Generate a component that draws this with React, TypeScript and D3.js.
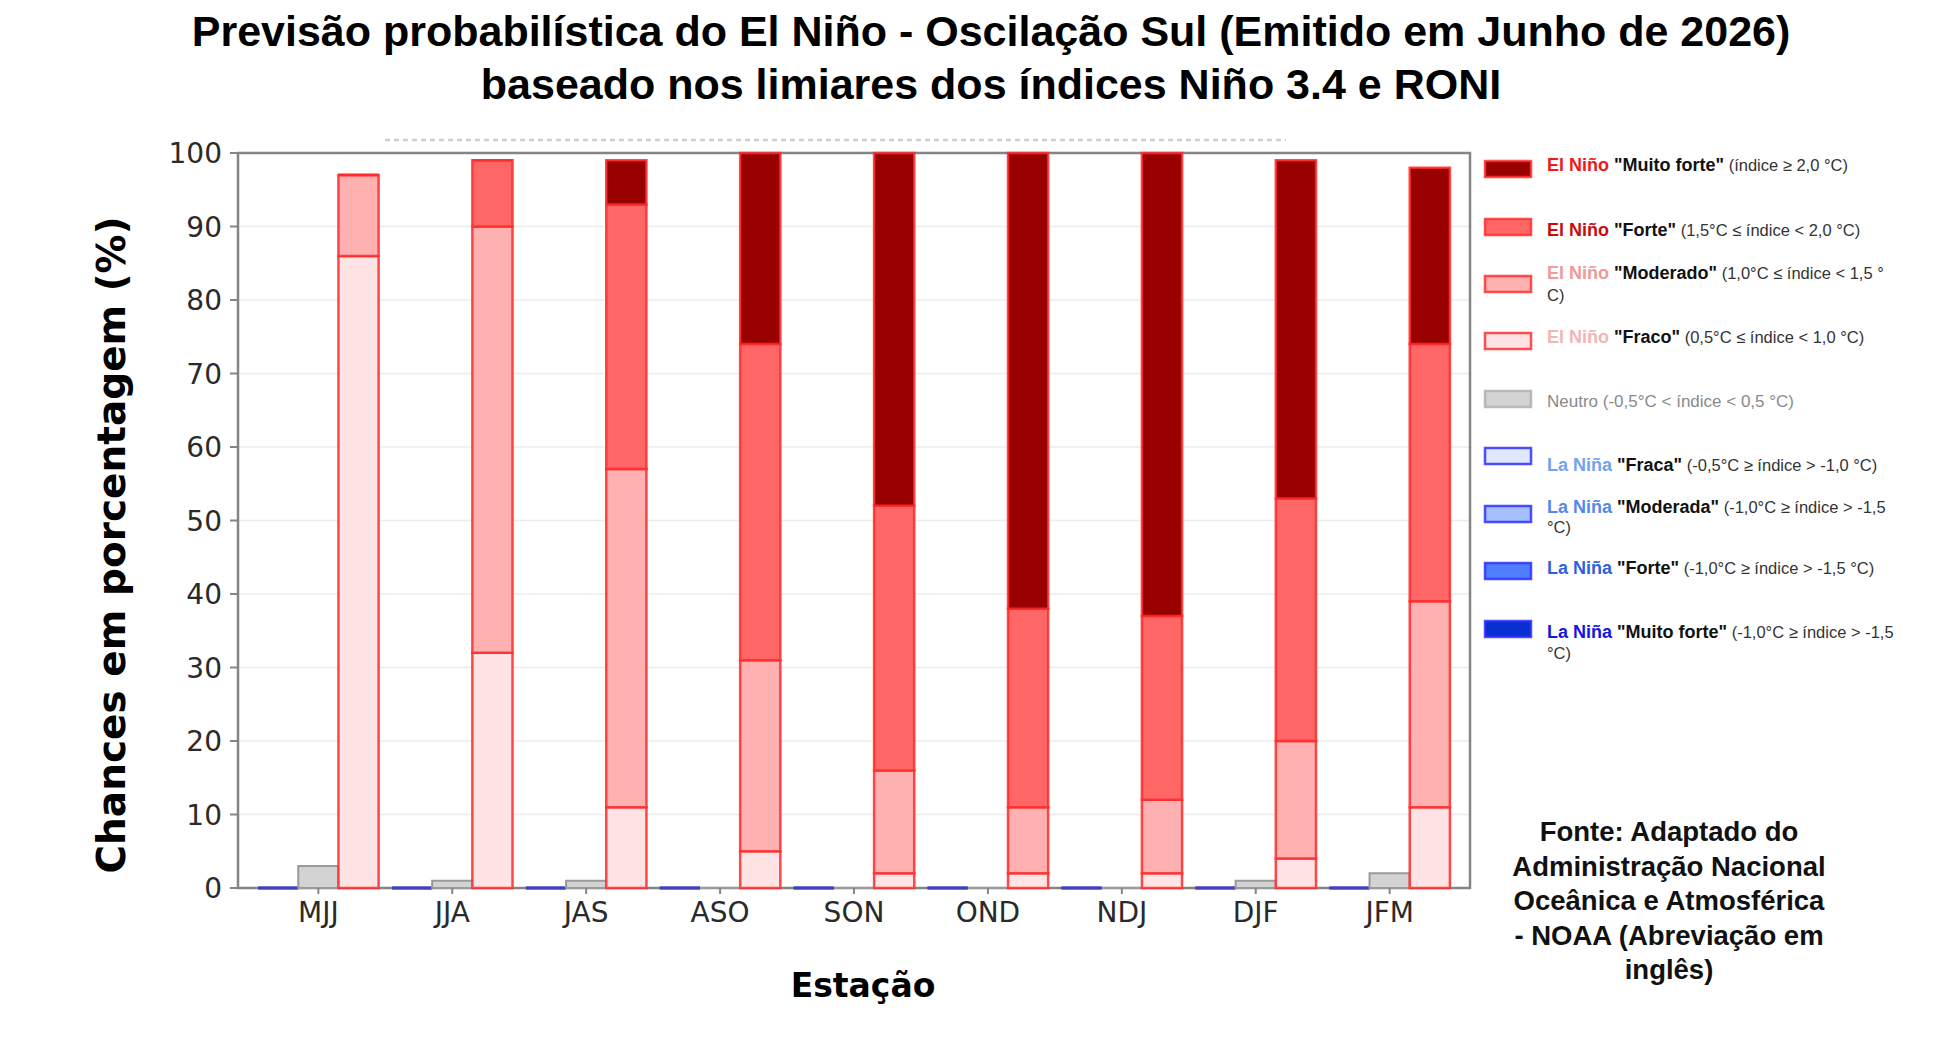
import React from "react";
import * as d3 from "d3";

// ---------- data ----------
const seasons = ["MJJ", "JJA", "JAS", "ASO", "SON", "OND", "NDJ", "DJF", "JFM"];
const laNinaMuitoForte = [0, 0, 0, 0, 0, 0, 0, 0, 0];
const laNinaForte = [0, 0, 0, 0, 0, 0, 0, 0, 0];
const laNinaModerada = [0, 0, 0, 0, 0, 0, 0, 0, 0];
const laNinaFraca = [0, 0, 0, 0, 0, 0, 0, 0, 0];
const neutro = [3, 1, 1, 0, 0, 0, 0, 1, 2];
const elNinoFraco = [86, 32, 11, 5, 2, 2, 2, 4, 11];
const elNinoModerado = [11, 58, 46, 26, 14, 9, 10, 16, 28];
const elNinoForte = [0, 9, 36, 43, 36, 27, 25, 33, 35];
const elNinoMuitoForte = [0, 0, 6, 26, 48, 62, 63, 46, 24];
const yTicks = [0, 10, 20, 30, 40, 50, 60, 70, 80, 90, 100];

const titleLines = [
  "Previsão probabilística do El Niño - Oscilação Sul (Emitido em Junho de 2026)",
  "baseado nos limiares dos índices Niño 3.4 e RONI",
];
const yLabel = "Chances em porcentagem (%)";
const xLabel = "Estação";
const sourceLines = [
  "Fonte: Adaptado do",
  "Administração Nacional",
  "Oceânica e Atmosférica",
  "- NOAA (Abreviação em",
  "inglês)",
];

const legendPrefixes = ["El Niño", "El Niño", "El Niño", "El Niño", "Neutro", "La Niña", "La Niña", "La Niña", "La Niña"];
const legendStrengths = ["\"Muito forte\"", "\"Forte\"", "\"Moderado\"", "\"Fraco\"", "", "\"Fraca\"", "\"Moderada\"", "\"Forte\"", "\"Muito forte\""];
const legendRanges = [
  ["(índice ≥ 2,0 °C)"],
  ["(1,5°C ≤ índice < 2,0 °C)"],
  ["(1,0°C ≤ índice < 1,5 °", "C)"],
  ["(0,5°C ≤ índice < 1,0 °C)"],
  ["(-0,5°C < índice < 0,5 °C)"],
  ["(-0,5°C ≥ índice > -1,0 °C)"],
  ["(-1,0°C ≥ índice > -1,5", "°C)"],
  ["(-1,0°C ≥ índice > -1,5 °C)"],
  ["(-1,0°C ≥ índice > -1,5", "°C)"],
];

// ---------- styles ----------
const elFills = ["#ffe3e5", "#ffb1b1", "#ff6666", "#990000"]; // fraco -> muito forte
const laFills = ["#dfe8ff", "#a6c0ff", "#4f7fff", "#0a2fd0"]; // fraca -> muito forte
const legendFills = ["#990000", "#ff6666", "#ffb1b1", "#ffe3e5", "#d3d3d3", "#dfe8ff", "#a6c0ff", "#4f7fff", "#0a2fd0"];
const legendStrokes = ["#ff3030", "#ff3030", "#ff3030", "#ff3030", "#b0b0b0", "#3030ff", "#3030ff", "#3030ff", "#3030ff"];
const legendPrefixColors = ["#f01818", "#c80c0c", "#f09a9a", "#f2b6b6", "#8a8a8a", "#74a2f2", "#5587ee", "#2f5fe0", "#1414e6"];
const legendSwatchY = [161, 219, 276, 333, 391, 448, 506, 563, 621];
const legendBaselines = [[171], [236], [279, 301], [343], [407], [471], [513, 533], [574], [638, 659]];

const W = 1948;
const H = 1038;
const plotLeft = 238;
const plotRight = 1470;
const plotTop = 153;
const plotBottom = 888;
const barW = 0.3;

// rectangle as a path, so that zero-height bars still show their outline
function barPath(x0: number, y0: number, w: number, h: number) {
  const p = d3.path();
  p.moveTo(x0, y0);
  p.lineTo(x0 + w, y0);
  p.lineTo(x0 + w, y0 + h);
  p.lineTo(x0, y0 + h);
  p.closePath();
  return p.toString();
}

export default function App() {
  const x = d3.scaleLinear().domain([-0.6, 8.6]).range([plotLeft, plotRight]);
  const y = d3.scaleLinear().domain([0, 100]).range([plotBottom, plotTop]);
  const bw = x(barW) - x(0);

  const rows = seasons.map((s, i) => ({
    s,
    i,
    f: elNinoFraco[i],
    m: elNinoModerado[i],
    fo: elNinoForte[i],
    mf: elNinoMuitoForte[i],
    lf: laNinaFraca[i],
    lm: laNinaModerada[i],
    lfo: laNinaForte[i],
    lmf: laNinaMuitoForte[i],
  }));
  const elStack = d3.stack<any>().keys(["f", "m", "fo", "mf"])(rows);
  const laStack = d3.stack<any>().keys(["lf", "lm", "lfo", "lmf"])(rows);

  const tickFont = "'DejaVu Sans', sans-serif";
  const arial = "'Liberation Sans', Arial, sans-serif";

  return (
    <svg
      width={W}
      height={H}
      viewBox={`0 0 ${W} ${H}`}
      style={{ position: "absolute", left: 0, top: 0, background: "#fff" }}
    >
      <rect x={0} y={0} width={W} height={H} fill="#fff" />
      {/* title */}
      {titleLines.map((t, k) => (
        <text
          key={k}
          x={991}
          y={[46, 99][k]}
          textAnchor="middle"
          fontFamily={arial}
          fontWeight="bold"
          fontSize={43}
          fill="#000"
        >
          {t}
        </text>
      ))}
      {/* faint remnant */}
      <line x1={385} x2={1286} y1={140} y2={140} stroke="#cfcfcf" strokeWidth={2.5} strokeDasharray="5,4" />

      {/* gridlines */}
      {yTicks.map((t) => (
        <line key={t} x1={plotLeft} x2={plotRight} y1={y(t)} y2={y(t)} stroke="#ececec" strokeWidth={1.5} />
      ))}

      {/* frame */}
      <rect
        x={plotLeft}
        y={plotTop}
        width={plotRight - plotLeft}
        height={plotBottom - plotTop}
        fill="none"
        stroke="#858585"
        strokeWidth={2.5}
      />

      {/* La Niña bars */}
      {laStack.map((layer, li) =>
        layer.map((d, i) => (
          <path
            key={`la${li}-${i}`}
            d={barPath(x(i - barW) - bw / 2, y(d[1]), bw, Math.max(0, y(d[0]) - y(d[1])))}
            fill={laFills[li]}
            stroke="#4040c0"
            strokeOpacity={0.9}
            strokeWidth={2.5}
          />
        ))
      )}
      {/* neutral bars */}
      {neutro.map((v, i) => (
        <path
          key={`n${i}`}
          d={barPath(x(i) - bw / 2, y(v), bw, y(0) - y(v))}
          fill="#d3d3d3"
          stroke="#9a9a9a"
          strokeWidth={2}
        />
      ))}
      {/* El Niño bars */}
      {elStack.map((layer, li) =>
        layer.map((d, i) => (
          <path
            key={`el${li}-${i}`}
            d={barPath(x(i + barW) - bw / 2, y(d[1]), bw, Math.max(0, y(d[0]) - y(d[1])))}
            fill={elFills[li]}
            stroke="#ff2a2a"
            strokeOpacity={0.85}
            strokeWidth={2.5}
          />
        ))
      )}

      {/* y ticks */}
      {yTicks.map((t) => (
        <g key={`yt${t}`}>
          <line x1={plotLeft - 8} x2={plotLeft} y1={y(t)} y2={y(t)} stroke="#858585" strokeWidth={2} />
          <text x={222} y={y(t) + 10} textAnchor="end" fontFamily={tickFont} fontSize={28} fill="#2a2a2a">
            {t}
          </text>
        </g>
      ))}
      {/* x ticks */}
      {seasons.map((s, i) => (
        <g key={`xt${s}`}>
          <line x1={x(i)} x2={x(i)} y1={plotBottom} y2={plotBottom + 6} stroke="#858585" strokeWidth={2} />
          <text x={x(i)} y={922} textAnchor="middle" fontFamily={tickFont} fontSize={28} fill="#2a2a2a">
            {s}
          </text>
        </g>
      ))}

      {/* axis labels */}
      <text
        transform={`translate(125,545) rotate(-90)`}
        textAnchor="middle"
        fontFamily="'DejaVu Sans', sans-serif"
        fontWeight="bold"
        fontSize={39}
        fill="#000"
      >
        {yLabel}
      </text>
      <text x={863} y={997} textAnchor="middle" fontFamily="'DejaVu Sans', sans-serif" fontWeight="bold" fontSize={33} fill="#000">
        {xLabel}
      </text>

      {/* legend */}
      {legendPrefixes.map((p, k) => (
        <g key={`lg${k}`}>
          <rect
            x={1485}
            y={legendSwatchY[k]}
            width={46}
            height={16}
            fill={legendFills[k]}
            stroke={legendStrokes[k]}
            strokeOpacity={0.85}
            strokeWidth={2.5}
          />
          {legendRanges[k].map((r, j) => (
            <text key={j} x={1547} y={legendBaselines[k][j]} fontFamily={arial}>
              {j === 0 && (
                <>
                  <tspan
                    fontWeight={k === 4 ? "normal" : "bold"}
                    fontSize={k === 4 ? 17 : 18}
                    fill={legendPrefixColors[k]}
                  >
                    {p}
                  </tspan>
                  {legendStrengths[k] !== "" && (
                    <tspan fontWeight="bold" fontSize={18} fill="#111">
                      {" " + legendStrengths[k]}
                    </tspan>
                  )}
                  <tspan fontSize={k === 4 ? 17 : 16.5} fill={k === 4 ? "#8a8a8a" : "#333"}>
                    {" " + r}
                  </tspan>
                </>
              )}
              {j > 0 && (
                <tspan fontSize={16.5} fill="#333">
                  {r}
                </tspan>
              )}
            </text>
          ))}
        </g>
      ))}

      {/* source */}
      {sourceLines.map((l, k) => (
        <text
          key={`src${k}`}
          x={1669}
          y={841 + k * 34.5}
          textAnchor="middle"
          fontFamily={arial}
          fontWeight="bold"
          fontSize={27.5}
          fill="#111"
        >
          {l}
        </text>
      ))}
    </svg>
  );
}
